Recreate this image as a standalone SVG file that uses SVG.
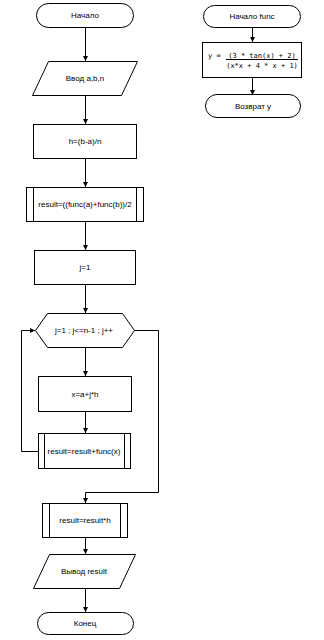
<svg xmlns="http://www.w3.org/2000/svg" width="324" height="640" viewBox="0 0 324 640">
<style>
.s{fill:#fff;stroke:#000;stroke-width:1}
.t{font-family:"Liberation Sans",Arial,sans-serif;font-size:8px;fill:#000;text-anchor:middle;dominant-baseline:central}
.m{font-family:"DejaVu Sans Mono","Liberation Mono",monospace;font-size:7px;fill:#000}
.c{fill:none;stroke:#000;stroke-width:1}
</style>
<defs>
<marker id="a" markerWidth="6" markerHeight="6" refX="5" refY="3" orient="auto" markerUnits="userSpaceOnUse">
<path d="M0,0.5 L5,3 L0,5.5 Z" fill="#000"/>
</marker>
</defs>
<rect width="324" height="640" fill="#fff"/>
<g id="connectors">
<path class="c" d="M85.5,27 V61" marker-end="url(#a)"/>
<path class="c" d="M85.5,95 V124" marker-end="url(#a)"/>
<path class="c" d="M85.5,158 V187" marker-end="url(#a)"/>
<path class="c" d="M85.5,221 V250" marker-end="url(#a)"/>
<path class="c" d="M85.5,284 V313" marker-end="url(#a)"/>
<path class="c" d="M85.5,347 V376" marker-end="url(#a)"/>
<path class="c" d="M85.5,411 V433" marker-end="url(#a)"/>
<path class="c" d="M38,451.5 H21.5 V330.5 H35" marker-end="url(#a)"/>
<path class="c" d="M134,330.5 H158.5 V492.5 H85.5 V503" marker-end="url(#a)"/>
<path class="c" d="M85.5,537 V554" marker-end="url(#a)"/>
<path class="c" d="M85.5,588 V612" marker-end="url(#a)"/>
<path class="c" d="M252.5,27 V42" marker-end="url(#a)"/>
<path class="c" d="M252.5,77 V95" marker-end="url(#a)"/>
</g>
<g id="start">
<rect class="s" x="36.5" y="3.5" width="97" height="24" rx="12"/>
<text class="t" x="85" y="15.5">Начало</text>
</g>
<g id="input">
<polygon class="s" points="48.5,61.5 137.5,61.5 121.5,95.5 32.5,95.5"/>
<text class="t" x="85" y="78.5">Ввод a,b,n</text>
</g>
<g id="h">
<rect class="s" x="33.5" y="124.5" width="103" height="34"/>
<text class="t" x="85" y="141.5">h=(b-a)/n</text>
</g>
<g id="result-init">
<rect class="s" x="26.5" y="187.5" width="117" height="34"/>
<path class="c" d="M33.5,187.5 V221.5 M136.5,187.5 V221.5"/>
<text class="t" x="85" y="204.5">result=((func(a)+func(b))/2</text>
</g>
<g id="j1">
<rect class="s" x="34.5" y="250.5" width="101" height="34"/>
<text class="t" x="85" y="267.5">j=1</text>
</g>
<g id="loop">
<polygon class="s" points="35.5,330.5 47.5,313.5 122.5,313.5 134.5,330.5 122.5,347.5 47.5,347.5"/>
<text class="t" x="84" y="330.5">j=1 ; j&lt;=n-1 ; j++</text>
</g>
<g id="x">
<rect class="s" x="38.5" y="376.5" width="93" height="35"/>
<text class="t" x="85" y="394">x=a+j*h</text>
</g>
<g id="result-add">
<rect class="s" x="38.5" y="433.5" width="92" height="35"/>
<path class="c" d="M44.5,433.5 V468.5 M124.5,433.5 V468.5"/>
<text class="t" x="84" y="451">result=result+func(x)</text>
</g>
<g id="result-mul">
<rect class="s" x="42.5" y="503.5" width="85" height="34"/>
<path class="c" d="M49.5,503.5 V537.5 M120.5,503.5 V537.5"/>
<text class="t" x="85" y="520.5">result=result*h</text>
</g>
<g id="output">
<polygon class="s" points="49.5,554.5 135.5,554.5 119.5,588.5 33.5,588.5"/>
<text class="t" x="84" y="571.5">Вывод result</text>
</g>
<g id="end">
<rect class="s" x="37.5" y="612.5" width="96" height="22" rx="11"/>
<text class="t" x="85" y="623.5">Конец</text>
</g>
<g id="func-start">
<rect class="s" x="203.5" y="5.5" width="97" height="22" rx="11"/>
<text class="t" x="252" y="16.5">Начало func</text>
</g>
<g id="func-body">
<rect class="s" x="202.5" y="42.5" width="99" height="35"/>
<text class="m" x="208" y="58">y =</text>
<text class="m" x="262" y="57.5" text-anchor="middle">(3 * tan(x) + 2)</text>
<line class="c" x1="226" y1="59.5" x2="298" y2="59.5"/>
<text class="m" x="262" y="67.5" text-anchor="middle">(x*x + 4 * x + 1)</text>
</g>
<g id="func-return">
<rect class="s" x="205.5" y="94.5" width="95" height="23" rx="11.5"/>
<text class="t" x="253" y="106">Возврат y</text>
</g>
</svg>
